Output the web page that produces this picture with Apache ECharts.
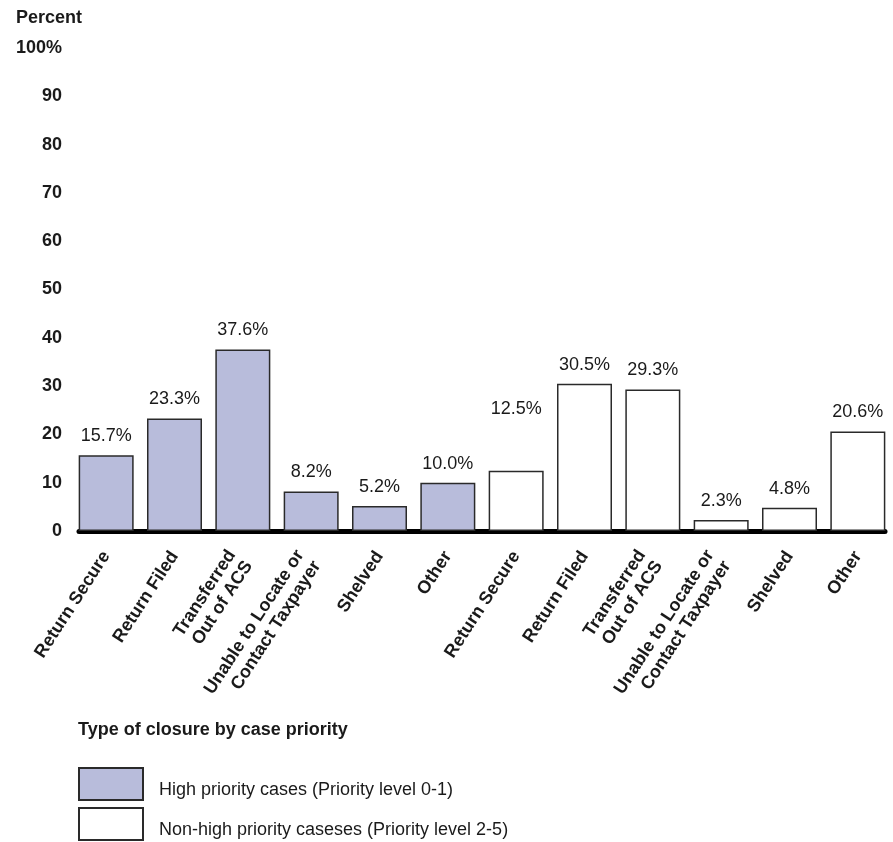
<!DOCTYPE html>
<html>
<head>
<meta charset="utf-8">
<script src="https://cdn.jsdelivr.net/npm/echarts@6/dist/echarts.min.js"></script>
<style>
html,body{margin:0;padding:0;background:#fff;}
#chart{width:893px;height:842px;}
</style>
</head>
<body>
<div id="chart"></div>
<script>
const categories = [
  'Return Secure', 'Return Filed', 'Transferred\nOut of ACS', 'Unable to Locate or\nContact Taxpayer', 'Shelved', 'Other',
  'Return Secure', 'Return Filed', 'Transferred\nOut of ACS', 'Unable to Locate or\nContact Taxpayer', 'Shelved', 'Other'
];
const highPriority = [15.7, 23.3, 37.6, 8.2, 5.2, 10.0, '-', '-', '-', '-', '-', '-'];
const nonHighPriority = ['-', '-', '-', '-', '-', '-', 12.5, 30.5, 29.3, 2.3, 4.8, 20.6];
const yTicks = [0, 10, 20, 30, 40, 50, 60, 70, 80, 90, 100];
const seriesNames = ['High priority cases (Priority level 0-1)', 'Non-high priority caseses (Priority level 2-5)'];

const FONT = '"Liberation Sans", Arial, Helvetica, sans-serif';
const TEXT = '#1a1a1a';

function toItems(arr) {
  return arr.map((v, i) => {
    if (v === '-') return '-';
    const item = { value: v };
    if (i === 6) item.label = { distance: 53 };
    return item;
  });
}
const categoryItems = categories.map(c =>
  c.indexOf('\n') >= 0 ? { value: c, textStyle: { padding: [10, 5, 0, 0] } } : c
);

const chart = echarts.init(document.getElementById('chart'), null, { renderer: 'canvas' });
const labelStyle = {
  show: true, position: 'top', distance: 10,
  formatter: p => p.value.toFixed(1) + '%',
  fontFamily: FONT, fontSize: 18, color: TEXT
};
const legendBase = {
  left: 78, padding: 0, itemWidth: 64, itemHeight: 32, icon: 'rect',
  formatter: n => '{t|' + n + '}',
  textStyle: { fontFamily: FONT, fontSize: 18, color: TEXT, padding: [0, 0, 0, 11],
    rich: { t: { fontFamily: FONT, fontSize: 18, color: TEXT, padding: [13, 0, 0, 0] } } }
};
chart.setOption({
  animation: false,
  backgroundColor: '#fff',
  title: [
    { text: 'Percent', left: 11, top: 4, textStyle: { fontFamily: FONT, fontSize: 18, fontWeight: 'bold', color: TEXT } },
    { text: 'Type of closure by case priority', left: 73, top: 716, textStyle: { fontFamily: FONT, fontSize: 18, fontWeight: 'bold', color: TEXT } }
  ],
  legend: [
    Object.assign({}, legendBase, { top: 767, data: [seriesNames[0]] }),
    Object.assign({}, legendBase, { top: 807, data: [seriesNames[1]] })
  ],
  grid: [
    { left: 72, right: 1, top: 48, bottom: 311 },
    { left: 79, right: 8, top: 48, bottom: 311 }
  ],
  xAxis: [
    {
      type: 'category', gridIndex: 0, data: categoryItems,
      axisLine: { show: false }, axisTick: { show: false },
      axisLabel: {
        interval: 0, rotate: 57, margin: 22,
        fontFamily: FONT, fontSize: 18, fontWeight: 'bold', color: TEXT, lineHeight: 20
      }
    },
    {
      type: 'category', gridIndex: 1, data: categories,
      axisLine: { show: true, lineStyle: { color: '#000', width: 5 } },
      axisTick: { show: false }, axisLabel: { show: false }
    }
  ],
  yAxis: [
    {
      type: 'value', gridIndex: 0, min: 0, max: 100, interval: 10,
      axisLine: { show: false }, axisTick: { show: false }, splitLine: { show: false },
      axisLabel: {
        margin: 10, fontFamily: FONT, fontSize: 18, fontWeight: 'bold', color: TEXT,
        formatter: v => yTicks.includes(v) ? (v === 100 ? '100%' : String(v)) : ''
      }
    },
    {
      type: 'value', gridIndex: 1, min: 0, max: 100, show: false
    }
  ],
  series: [
    {
      name: seriesNames[0], type: 'bar', xAxisIndex: 0, yAxisIndex: 0,
      data: toItems(highPriority), barWidth: 55, barGap: '-100%',
      itemStyle: { color: '#b8bcdb', borderColor: '#2a2a2a', borderWidth: 1.5 },
      label: labelStyle
    },
    {
      name: seriesNames[1], type: 'bar', xAxisIndex: 0, yAxisIndex: 0,
      data: toItems(nonHighPriority), barWidth: 55, barGap: '-100%',
      itemStyle: { color: '#ffffff', borderColor: '#2a2a2a', borderWidth: 1.5 },
      label: labelStyle
    }
  ]
});
</script>
</body>
</html>
